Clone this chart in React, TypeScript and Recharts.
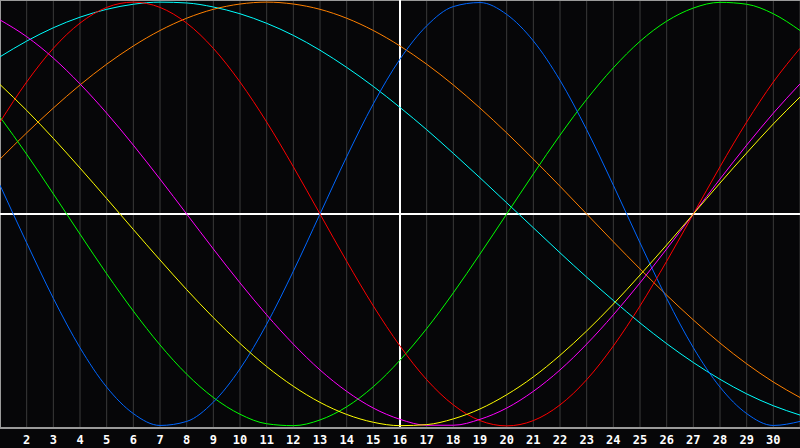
import React from 'react';
import { LineChart, Line, XAxis, YAxis, CartesianGrid, ReferenceLine } from 'recharts';

const days = [1,2,3,4,5,6,7,8,9,10,11,12,13,14,15,16,17,18,19,20,21,22,23,24,25,26,27,28,29,30,31];
const tickDays = [2,3,4,5,6,7,8,9,10,11,12,13,14,15,16,17,18,19,20,21,22,23,24,25,26,27,28,29,30];

const blue = [0.136,-0.136,-0.398,-0.631,-0.817,-0.942,-0.998,-0.979,-0.888,-0.731,-0.520,-0.270,0,0.270,0.520,0.731,0.888,0.979,0.998,0.942,0.817,0.631,0.398,0.136,-0.136,-0.398,-0.631,-0.817,-0.942,-0.998,-0.979];
const red = [0.434,0.623,0.782,0.901,0.975,1.0,0.975,0.901,0.782,0.623,0.434,0.223,0,-0.223,-0.434,-0.623,-0.782,-0.901,-0.975,-1.0,-0.975,-0.901,-0.782,-0.623,-0.434,-0.223,0,0.223,0.434,0.623,0.782];
const green = [0.458,0.282,0.095,-0.095,-0.282,-0.458,-0.618,-0.756,-0.866,-0.945,-0.990,-0.999,-0.972,-0.910,-0.815,-0.690,-0.541,-0.372,-0.189,0,0.189,0.372,0.541,0.690,0.815,0.910,0.972,0.999,0.990,0.945,0.866];
const yellow = [0.611,0.489,0.357,0.217,0.073,-0.073,-0.217,-0.357,-0.489,-0.611,-0.720,-0.813,-0.889,-0.946,-0.983,-0.999,-0.994,-0.967,-0.920,-0.853,-0.769,-0.667,-0.552,-0.425,-0.288,-0.146,0,0.146,0.288,0.425,0.552];
const magenta = [0.916,0.837,0.736,0.614,0.476,0.325,0.165,0,-0.165,-0.325,-0.476,-0.614,-0.736,-0.837,-0.916,-0.969,-0.997,-0.997,-0.969,-0.916,-0.837,-0.736,-0.614,-0.476,-0.325,-0.165,0,0.165,0.325,0.476,0.614];
const orange = [0.259,0.383,0.5,0.609,0.707,0.793,0.866,0.924,0.966,0.991,1.0,0.991,0.966,0.924,0.866,0.793,0.707,0.609,0.5,0.383,0.259,0.131,0,-0.131,-0.259,-0.383,-0.5,-0.609,-0.707,-0.793,-0.866];
const cyan = [0.742,0.816,0.879,0.929,0.966,0.990,1.0,0.996,0.977,0.945,0.900,0.843,0.773,0.692,0.602,0.503,0.398,0.286,0.171,0.053,-0.065,-0.183,-0.298,-0.408,-0.514,-0.612,-0.701,-0.780,-0.849,-0.905,-0.949];

const data = days.map((d, i) => ({
  day: d,
  blue: blue[i],
  red: red[i],
  green: green[i],
  yellow: yellow[i],
  magenta: magenta[i],
  orange: orange[i],
  cyan: cyan[i],
}));

const series: [string, string][] = [
  ['cyan', '#00ffff'],
  ['orange', '#ff8000'],
  ['green', '#00ff00'],
  ['blue', '#0066ff'],
  ['red', '#ff0000'],
  ['magenta', '#ff00ff'],
  ['yellow', '#ffff00'],
];

export default function App() {
  return (
    <div style={{ position: 'fixed', left: 0, top: 0, width: 800, height: 448, background: '#060608' }}>
      <LineChart width={800} height={448} data={data} margin={{ top: 0, right: 0, bottom: 0, left: 0 }}>
        <CartesianGrid vertical horizontal={false} stroke="#3a3a3a" strokeWidth={1} />
        <XAxis
          dataKey="day"
          type="number"
          domain={[1, 31]}
          ticks={tickDays}
          interval={0}
          height={20}
          tickLine={false}
          axisLine={{ stroke: '#9a9a9a', strokeWidth: 2 }}
          tick={{ fill: '#ffffff', fontSize: 12, fontWeight: 'bold', fontFamily: 'DejaVu Sans Mono' }}
          tickMargin={1}
        />
        <YAxis hide domain={[-1.01, 1.01]} type="number" />
        <ReferenceLine x={1} stroke="#9a9a9a" strokeWidth={2} />
        <ReferenceLine y={1.01} stroke="#9a9a9a" strokeWidth={2} />
        <ReferenceLine x={16} stroke="#ffffff" strokeWidth={2} />
        <ReferenceLine y={0} stroke="#ffffff" strokeWidth={2} />
        {series.map(([k, c]) => (
          <Line key={k} dataKey={k} type="monotone" stroke={c} strokeWidth={1} dot={false} activeDot={false} isAnimationActive={false} />
        ))}
      </LineChart>
    </div>
  );
}
